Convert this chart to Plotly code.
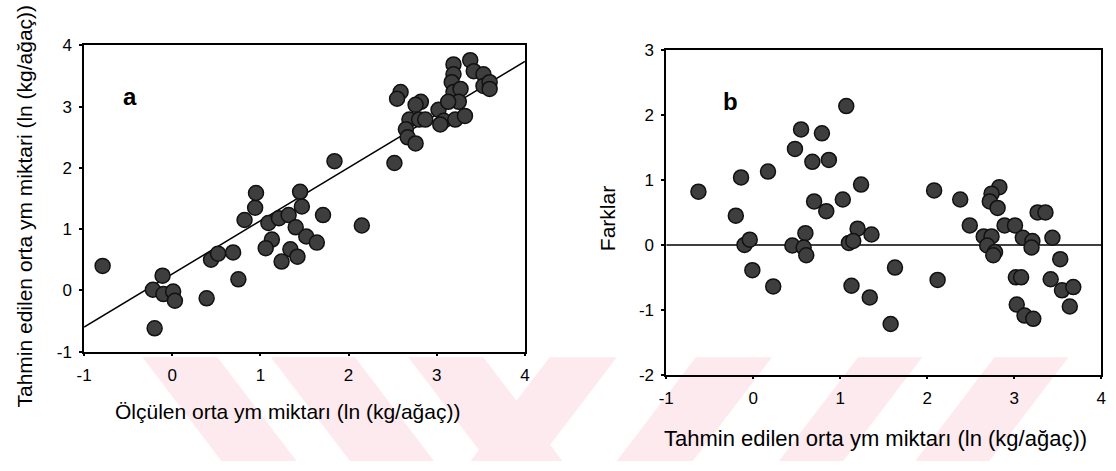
import plotly.graph_objects as go

W, H = 1116, 471

# Panel a: measured (x) vs predicted (y)
a_x = [-0.79, -0.11, -0.22, -0.10, 0.01, 0.03, -0.20, 0.39, 0.44, 0.52, 0.69, 0.75,
       0.82, 0.94, 0.95, 1.09, 1.21, 1.32, 1.40, 1.45, 1.47, 1.71, 1.52, 1.64, 1.13,
       1.06, 1.34, 1.42, 1.24, 1.84, 2.15, 2.52, 2.59, 2.55, 2.82, 2.76, 2.69, 2.80,
       2.65, 2.67, 2.76, 2.87, 3.02, 3.08, 3.21, 3.32, 3.19, 3.19, 3.17, 3.19, 3.27,
       3.25, 3.13, 3.38, 3.42, 3.53, 3.53, 3.60, 3.60, 3.04]
a_y = [0.40, 0.24, 0.01, -0.06, -0.02, -0.17, -0.62, -0.13, 0.50, 0.60, 0.62, 0.18,
       1.15, 1.35, 1.59, 1.10, 1.18, 1.23, 1.03, 1.61, 1.37, 1.23, 0.88, 0.78, 0.83,
       0.69, 0.67, 0.55, 0.47, 2.11, 1.06, 2.08, 3.24, 3.13, 3.08, 3.03, 2.79, 2.79,
       2.63, 2.50, 2.40, 2.79, 2.95, 2.77, 2.79, 2.85, 3.69, 3.53, 3.40, 3.24, 3.29,
       3.08, 3.08, 3.76, 3.58, 3.53, 3.34, 3.40, 3.29, 2.71]
fit_x = [-1, 4]
fit_y = [-0.60, 3.74]

# Panel b: predicted (x) vs residuals (y)
b_x = [-0.63, -0.14, 0.17, -0.20, -0.10, -0.04, -0.01, 0.23, 0.55, 0.79, 0.48, 0.68,
       0.87, 0.70, 0.84, 1.03, 0.60, 0.45, 0.58, 0.61, 1.07, 1.10, 1.13, 1.24, 1.20,
       1.36, 1.15, 1.63, 1.34, 1.58, 2.08, 2.12, 2.38, 2.49, 2.83, 2.74, 2.72, 2.81,
       3.27, 3.36, 2.89, 3.01, 2.65, 2.74, 2.69, 2.78, 2.76, 3.10, 3.21, 3.20, 3.44,
       3.53, 3.02, 3.08, 3.03, 3.12, 3.22, 3.42, 3.55, 3.68, 3.64]
b_y = [0.82, 1.04, 1.13, 0.45, 0.00, 0.08, -0.39, -0.64, 1.78, 1.72, 1.48, 1.28,
       1.31, 0.67, 0.52, 0.70, 0.18, -0.01, -0.04, -0.16, 2.14, 0.03, -0.63, 0.93, 0.25,
       0.16, 0.06, -0.35, -0.81, -1.22, 0.84, -0.54, 0.70, 0.30, 0.89, 0.79, 0.67, 0.57,
       0.50, 0.50, 0.30, 0.30, 0.13, 0.13, -0.01, -0.11, -0.16, 0.11, 0.06, -0.04, 0.11,
       -0.22, -0.50, -0.50, -0.92, -1.09, -1.14, -0.53, -0.70, -0.65, -0.95]
ref_x = [-1, 4]
ref_y = [0, 0]

ticks_x = [-1, 0, 1, 2, 3, 4]
ticks_ya = [-1, 0, 1, 2, 3, 4]
ticks_yb = [-2, -1, 0, 1, 2, 3]


def labels(vals):
    return [str(v) for v in vals]  # plain hyphen-minus as in the original


FONT = "Liberation Sans, Arial, sans-serif"
marker = dict(size=15, color="#3e3e3e", line=dict(color="#111111", width=1.5))

fig = go.Figure()
fig.add_trace(go.Scatter(x=fit_x, y=fit_y, mode="lines", line=dict(color="black", width=1.5),
                         xaxis="x", yaxis="y", showlegend=False))
fig.add_trace(go.Scatter(x=a_x, y=a_y, mode="markers", marker=marker,
                         xaxis="x", yaxis="y", showlegend=False))
fig.add_trace(go.Scatter(x=ref_x, y=ref_y, mode="lines", line=dict(color="black", width=1.5),
                         xaxis="x2", yaxis="y2", showlegend=False))
fig.add_trace(go.Scatter(x=b_x, y=b_y, mode="markers", marker=marker,
                         xaxis="x2", yaxis="y2", showlegend=False))


def px_x(p):
    return p / W


def px_y(p):
    return 1 - p / H


axis_common = dict(showline=True, mirror=True, linecolor="black", linewidth=1.5,
                   ticks="outside", ticklen=3, tickwidth=2, tickcolor="black",
                   showgrid=False, zeroline=False, ticklabelstandoff=4,
                   tickfont=dict(family=FONT, size=17, color="black"))

fig.update_layout(
    width=W, height=H,
    margin=dict(l=0, r=0, t=0, b=0),
    paper_bgcolor="white", plot_bgcolor="rgba(0,0,0,0)",
    xaxis=dict(domain=[px_x(77), px_x(523)], range=[-1, 4], tickvals=ticks_x,
               ticktext=labels(ticks_x), anchor="y", **axis_common),
    yaxis=dict(domain=[px_y(357), px_y(38)], range=[-1, 4], tickvals=ticks_ya,
               ticktext=labels(ticks_ya), anchor="x", **axis_common),
    xaxis2=dict(domain=[px_x(666), px_x(1106)], range=[-1, 4], tickvals=ticks_x,
                ticktext=labels(ticks_x), anchor="y2", **axis_common),
    yaxis2=dict(domain=[px_y(381), px_y(43)], range=[-2, 3], tickvals=ticks_yb,
                ticktext=labels(ticks_yb), anchor="x2", **axis_common),
)

# faint watermark stripes (decorative background)
pink = "rgb(253,234,238)"
top, bot = 363, 471
shift = 80
stripes = [((136, 212), 1), ((266, 351), 1), ((405, 481), 1),
           ((548, 616), -1), ((696, 773), -1), ((860, 925), -1), ((998, 1073), -1)]
shapes = []
for (x0, x1), d in stripes:
    s = shift * d
    path = (f"M {px_x(x0)},{px_y(top)} L {px_x(x1)},{px_y(top)} "
            f"L {px_x(x1 + s)},{px_y(bot)} L {px_x(x0 + s)},{px_y(bot)} Z")
    shapes.append(dict(type="path", xref="paper", yref="paper", path=path,
                       fillcolor=pink, line=dict(width=0), layer="below"))
fig.update_layout(shapes=shapes)

title_font = dict(family=FONT, size=21, color="black")
ann = [
    dict(text="Tahmin edilen orta ym miktari (ln (kg/ağaç))", x=px_x(17), y=px_y(205),
         textangle=-90, font=title_font),
    dict(text="Ölçülen orta ym miktarı (ln (kg/ağaç))", x=px_x(283), y=px_y(419),
         font=title_font),
    dict(text="Farklar", x=px_x(606), y=px_y(218), textangle=-90, font=title_font),
    dict(text="Tahmin edilen orta ym miktarı (ln (kg/ağaç))", x=px_x(878), y=px_y(448),
         font=dict(family=FONT, size=22, color="black")),
    dict(text="<b>a</b>", x=px_x(123), y=px_y(91), font=dict(family=FONT, size=24, color="black")),
    dict(text="<b>b</b>", x=px_x(731), y=px_y(96), font=dict(family=FONT, size=24, color="black")),
]
for a in ann:
    a.update(xref="paper", yref="paper", showarrow=False, xanchor="center", yanchor="middle")
fig.update_layout(annotations=ann)

fig.write_html("out.html")
